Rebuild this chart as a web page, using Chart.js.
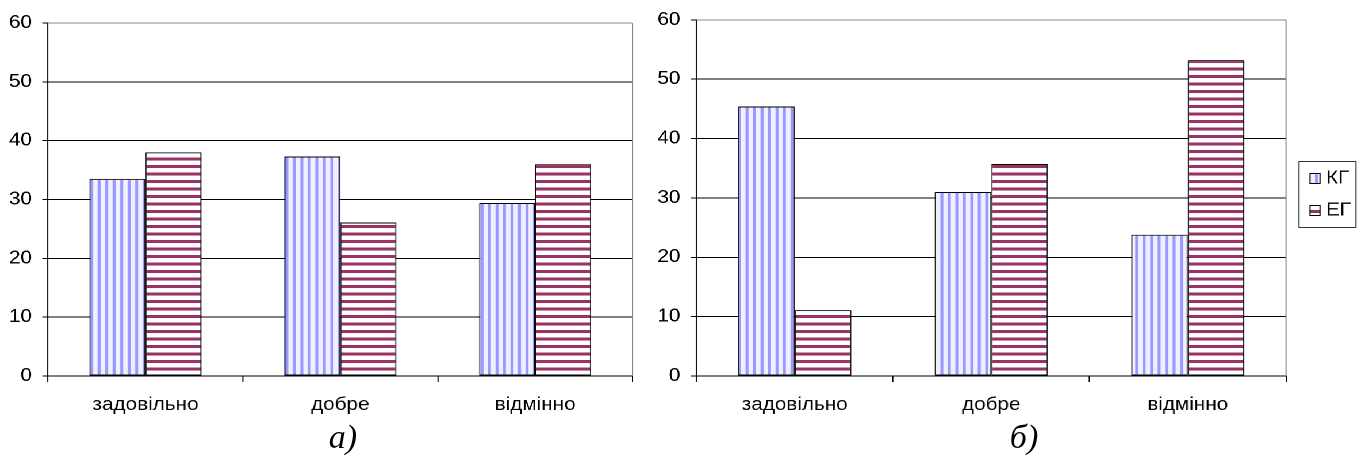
<!DOCTYPE html>
<html>
<head>
<meta charset="utf-8">
<script src="https://cdn.jsdelivr.net/npm/chart.js@4.4.1/dist/chart.umd.min.js"></script>
<style>
html, body { margin: 0; padding: 0; background: #fff; overflow: hidden; }
#page { position: relative; width: 1364px; height: 457px; }
#wrap { position: absolute; left: 0; top: 0; height: 457px; transform-origin: 0 0; }
.box { position: absolute; top: 0; height: 457px; }
.cap { position: absolute; top: 418px; line-height: 1; font: italic 34px 'Liberation Serif', 'Times New Roman', serif; transform: translateX(-50%); }
</style>
</head>
<body>
<div id="page">
  <div id="wrap">
    <div class="box" id="boxA"><canvas id="chartA"></canvas></div>
    <div class="box" id="boxB"><canvas id="chartB"></canvas></div>
  </div>
  <div class="cap" style="left:343px">а)</div>
  <div class="cap" style="left:1024px">б)</div>
</div>
<script>
// data
const categories = ['задовільно', 'добре', 'відмінно'];
const seriesNames = ['КГ', 'ЕГ'];
const kgA = [33.5, 37.3, 29.4];
const egA = [38.0, 26.1, 36.0];
const kgB = [45.4, 31.0, 23.8];
const egB = [11.1, 35.7, 53.2];
const yMin = 0, yMax = 60, yStep = 10;

const SX = 1.15; // the original picture is stretched sideways

const wrap = document.getElementById('wrap');
wrap.style.width = (1364 / SX) + 'px';
wrap.style.transform = 'scaleX(' + SX + ')';
const boxA = document.getElementById('boxA');
boxA.style.left = '0px';
boxA.style.width = (640 / SX) + 'px';
const boxB = document.getElementById('boxB');
boxB.style.left = (640 / SX) + 'px';
boxB.style.width = (724 / SX) + 'px';

Chart.defaults.font.family = "'Liberation Sans', Arial, sans-serif";
Chart.defaults.font.size = 18;
Chart.defaults.color = '#000';

// stripe fills, drawn at 2x and scaled back so the period is 7.5px on the page
function stripes(vertical, color, bg) {
  const c = document.createElement('canvas');
  c.width = 30; c.height = 30;
  const g = c.getContext('2d');
  g.fillStyle = bg;
  g.fillRect(0, 0, 30, 30);
  g.fillStyle = color;
  if (vertical) {
    g.fillRect(0, 0, 6, 30);
    g.fillRect(15, 0, 6, 30);
  } else {
    g.fillRect(0, 0, 30, 6);
    g.fillRect(0, 15, 30, 6);
  }
  const p = g.createPattern(c, 'repeat');
  p.setTransform(new DOMMatrix().scale(0.5 / SX, 0.5));
  return p;
}
const patKG = stripes(true, '#9999ff', '#f0f0ff');
const patEG = stripes(false, '#993366', '#ffffff');

// gray right edge of the plot
const frame = {
  id: 'frame',
  afterDraw(chart) {
    const ctx = chart.ctx, a = chart.chartArea;
    ctx.save();
    ctx.strokeStyle = '#888';
    ctx.lineWidth = 1;
    ctx.beginPath();
    ctx.moveTo(a.right, a.top);
    ctx.lineTo(a.right, a.bottom);
    ctx.stroke();
    ctx.restore();
  }
};

// boxed legend to the right of chart b
const boxLegend = {
  id: 'boxLegend',
  afterDraw(chart) {
    const ctx = chart.ctx, a = chart.chartArea;
    const x0 = a.right + 13 / SX, y0 = 161.5;
    ctx.save();
    ctx.lineWidth = 1;
    ctx.strokeStyle = '#333';
    ctx.strokeRect(x0, y0, 57 / SX, 66);
    ctx.font = "18px 'Liberation Sans', Arial, sans-serif";
    ctx.textBaseline = 'alphabetic';
    chart.data.datasets.forEach((ds, i) => {
      const sy = y0 + 12 + i * 32;
      ctx.fillStyle = ds.backgroundColor;
      ctx.fillRect(x0 + 11 / SX, sy, 10 / SX, 10);
      ctx.strokeStyle = '#000';
      ctx.strokeRect(x0 + 11 / SX, sy, 10 / SX, 10);
      ctx.fillStyle = '#000';
      ctx.fillText(ds.label, x0 + 27 / SX, y0 + 22 + i * 32);
    });
    ctx.restore();
  }
};

function makeChart(id, kg, eg, yAxisW, padRight, padTop, withLegend) {
  return new Chart(document.getElementById(id), {
    type: 'bar',
    data: {
      labels: categories,
      datasets: [
        { label: seriesNames[0], data: kg, backgroundColor: patKG, borderColor: '#000', borderWidth: 1, borderSkipped: false },
        { label: seriesNames[1], data: eg, backgroundColor: patEG, borderColor: '#000', borderWidth: 1, borderSkipped: false }
      ]
    },
    options: {
      responsive: true,
      maintainAspectRatio: false,
      animation: false,
      devicePixelRatio: 2,
      layout: { padding: { left: 0, right: padRight, top: padTop, bottom: 0 } },
      datasets: { bar: { categoryPercentage: 0.575, barPercentage: 1 } },
      plugins: { legend: { display: false }, tooltip: { enabled: false } },
      scales: {
        x: {
          grid: { offset: true, drawOnChartArea: false, drawTicks: true, tickLength: 6, color: '#000' },
          border: { color: '#000', width: 1 },
          ticks: { padding: 12, maxRotation: 0, autoSkip: false },
          afterFit: s => { s.height = 81; }
        },
        y: {
          min: yMin, max: yMax,
          ticks: { stepSize: yStep, padding: 9 },
          grid: { color: c => (c.tick && c.tick.value === yMax ? '#888' : '#000'), tickColor: '#000', tickLength: 5, lineWidth: 1 },
          border: { color: '#000', width: 1 },
          afterFit: s => { s.width = yAxisW; }
        }
      }
    },
    plugins: withLegend ? [frame, boxLegend] : [frame]
  });
}

makeChart('chartA', kgA, egA, 48 / SX, 8 / SX, 23, false);
makeChart('chartB', kgB, egB, 56 / SX, 78 / SX, 18, true);
</script>
</body>
</html>
